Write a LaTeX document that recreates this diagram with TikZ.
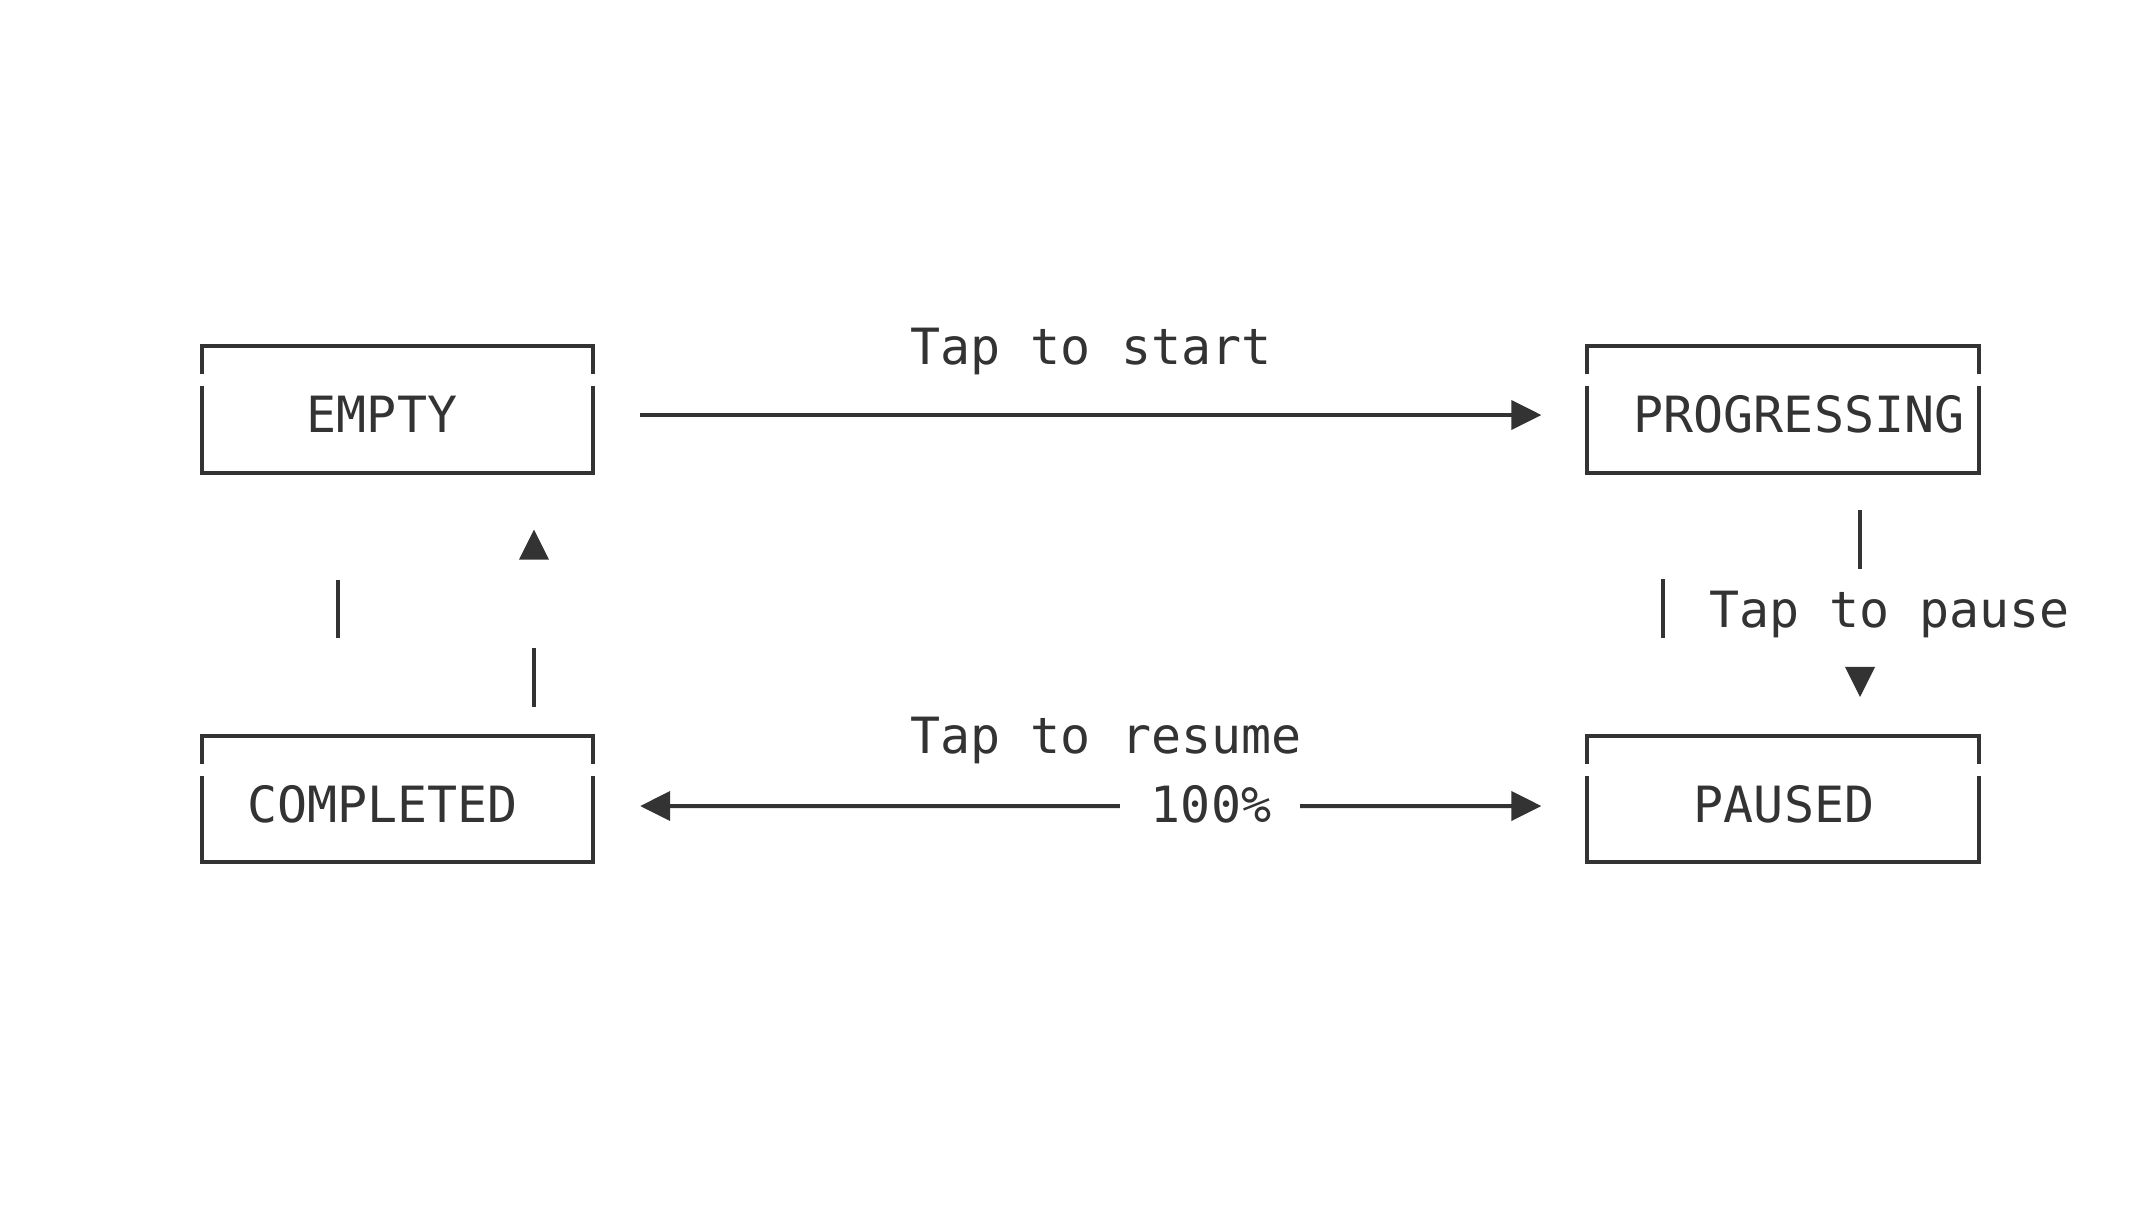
\documentclass[tikz,border=0pt]{standalone}
\usepackage{fontspec}
\setmonofont{DejaVu Sans Mono}
\usetikzlibrary{arrows.meta,calc}
\definecolor{ink}{HTML}{333333}
\begin{document}
\begin{tikzpicture}[x=0.01cm,y=-0.01cm,
  stbox/.style={rectangle,draw=none,inner sep=0pt,outer sep=0pt,minimum width=3.91cm,minimum height=1.26cm},
  lbl/.style={inner sep=0pt,outer sep=0pt,anchor=base,text=ink,font=\ttfamily\fontsize{14.2pt}{17pt}\selectfont},
  frame/.style={draw=ink,line width=0.04cm},
  arr/.style={draw=ink,line width=0.04cm,-{Triangle[length=0.3cm,width=0.29cm]}},
  bar/.style={draw=ink,line width=0.04cm},
  tri/.style={fill=ink}
]
\useasboundingbox (0,0) rectangle (2152,1215);
% boxes
\node[stbox] (empty) at (397.5,409.5) {};
\node[stbox] (prog) at (1783,409.5) {};
\node[stbox] (comp) at (397.5,799) {};
\node[stbox] (paused) at (1783,799) {};
\foreach \b in {empty,prog,comp,paused}{
  \draw[frame] ([yshift=-0.28cm]\b.north west) -- (\b.north west) -- (\b.north east) -- ([yshift=-0.28cm]\b.north east);
  \draw[frame] ([yshift=-0.40cm]\b.north west) -- (\b.south west) -- (\b.south east) -- ([yshift=-0.40cm]\b.north east);
}
% texts
\node[lbl] (emptyt) at (382,432) {EMPTY};
\node[lbl] (progt) at (1799,432) {PROGRESSING};
\node[lbl] (compt) at (382.5,822) {COMPLETED};
\node[lbl] (pausedt) at (1784,822) {PAUSED};
\node[lbl] (start) at (1091,364) {Tap to start};
\node[lbl] (resume) at (1106,753) {Tap to resume};
\node[lbl] (pct) at (1211,822) {100\%};
\node[lbl] (pause) at (1889.5,627) {Tap to pause};
% top arrow
\draw[arr] ([xshift=0.47cm,yshift=-0.055cm]empty.east) -- ([xshift=-0.46cm,yshift=-0.055cm]prog.west);
% bottom double arrow split by 100%
\draw[arr] ([shift={(-0.31cm,0.16cm)}]pct.base west) -- ([xshift=0.47cm,yshift=-0.07cm]comp.east);
\draw[arr] ([shift={(0.29cm,0.16cm)}]pct.base east) -- ([xshift=-0.46cm,yshift=-0.07cm]paused.west);
% left column fragments
\draw[bar] ($(empty.south)+(-59.5,107)$) -- ($(empty.south)+(-59.5,165)$);
\fill[tri] ($(empty.south)+(136.5,57)$) -- ($(empty.south)+(121.5,87)$) -- ($(empty.south)+(151.5,87)$) -- cycle;
\draw[bar] ($(comp.north)+(136.5,-88)$) -- ($(comp.north)+(136.5,-29)$);
% right column fragments
\draw[bar] ($(prog.south)+(77,37.5)$) -- ($(prog.south)+(77,96.5)$);
\draw[bar] ($(prog.south)+(-120,106.5)$) -- ($(prog.south)+(-120,165.5)$);
\fill[tri] ($(paused.north)+(62,-69)$) -- ($(paused.north)+(92,-69)$) -- ($(paused.north)+(77,-39)$) -- cycle;
\end{tikzpicture}
\end{document}
